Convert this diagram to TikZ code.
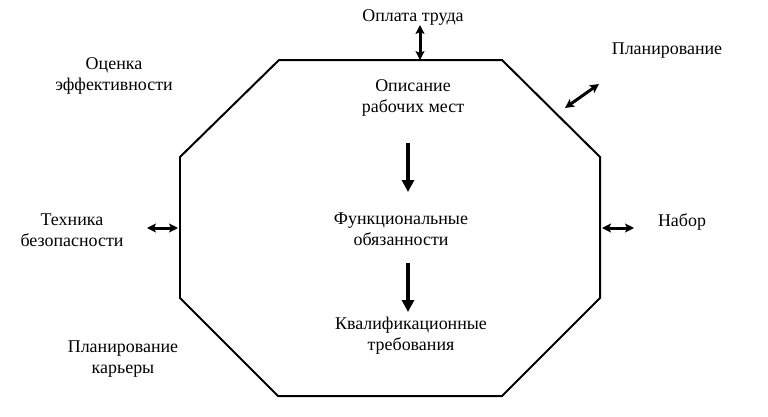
\documentclass[tikz,border=0pt]{standalone}
\usepackage{fontspec}
\setmainfont{Liberation Serif}
\newfontfamily\rfont{Liberation Serif}
\usetikzlibrary{arrows.meta}
\begin{document}
\begin{tikzpicture}[x=1bp,y=-1bp,
  lbl/.style={align=center,font=\rfont\fontsize{18}{21}\selectfont,inner sep=0pt},
  dbl/.style={line width=3pt,{Stealth[length=9pt,width=9pt,inset=2pt]}-{Stealth[length=9pt,width=9pt,inset=2pt]}},
  down/.style={line width=4.5pt,-{Triangle[length=12pt,width=12pt]}},
  oct/.style={line width=2pt,line join=miter}]
\useasboundingbox (0,0) rectangle (768,416);
\coordinate (v1) at (279,60);
\coordinate (v2) at (502,60);
\coordinate (v3) at (600,157);
\coordinate (v4) at (600,298);
\coordinate (v5) at (502,396);
\coordinate (v6) at (278,396);
\coordinate (v7) at (180,298);
\coordinate (v8) at (180,157);
\draw[oct] (v1) -- (v2) -- (v3) -- (v4) -- (v5) -- (v6) -- (v7) -- (v8) -- cycle;

\node[lbl] (opl) at (413,17) {Оплата труда};
\node[lbl] (plan) at (667,51) {Планирование};
\node[lbl] (ocen) at (114,76) {Оценка\\эффективности};
\node[lbl] (opis) at (413,98) {Описание\\рабочих мест};
\node[lbl] (func) at (401,229) {Функциональные\\обязанности};
\node[lbl] (kval) at (411,336) {Квалификационные\\требования};
\node[lbl] (tech) at (72,230) {Техника\\безопасности};
\node[lbl] (nab) at (682,222) {Набор};
\node[lbl] (kar) at (123,359) {Планирование\\карьеры};

\coordinate (a1s) at (420,25);
\coordinate (a1e) at (420,60);
\draw[dbl] (a1s) -- (a1e);
\coordinate (a2s) at (565,108);
\coordinate (a2e) at (599,84);
\draw[dbl] (a2s) -- (a2e);
\coordinate (a3s) at (147,228);
\coordinate (a3e) at (178,228);
\draw[dbl] (a3s) -- (a3e);
\coordinate (a4s) at (602,228);
\coordinate (a4e) at (634,228);
\draw[dbl] (a4s) -- (a4e);

\coordinate (d1s) at (408,143);
\coordinate (d1e) at (408,192);
\draw[down] (d1s) -- (d1e);
\coordinate (d2s) at (408,263);
\coordinate (d2e) at (408,312);
\draw[down] (d2s) -- (d2e);
\end{tikzpicture}
\end{document}
